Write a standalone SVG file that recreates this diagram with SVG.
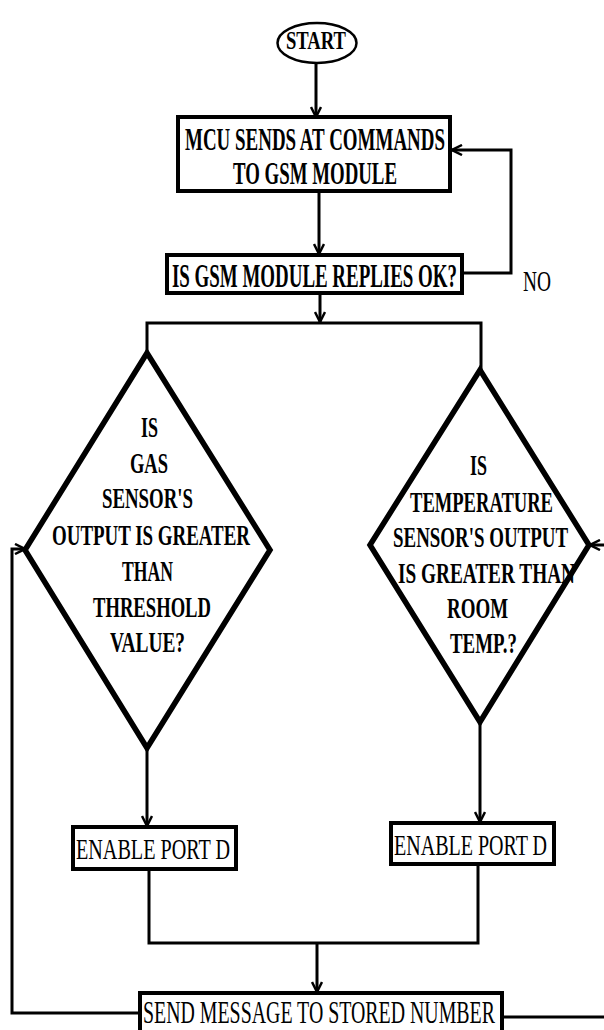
<svg xmlns="http://www.w3.org/2000/svg" width="604" height="1030" viewBox="0 0 604 1030">
<style>
.t{font-family:"Liberation Serif","Times New Roman",serif;font-weight:bold;fill:#000}
.r{font-family:"Liberation Serif","Times New Roman",serif;font-weight:normal;fill:#000}
.box{fill:#fff;stroke:#000;stroke-width:4}
.dfill{fill:#fff;stroke:none}
.dline{fill:none;stroke:#000;stroke-width:5.5;stroke-linejoin:miter}
.c{fill:none;stroke:#000;stroke-width:3}
.ca{fill:none;stroke:#000;stroke-width:3;marker-end:url(#ah)}
</style>
<defs>
<marker id="ah" viewBox="0 0 12 12" refX="11" refY="6" markerWidth="12" markerHeight="12" markerUnits="userSpaceOnUse" orient="auto">
<path d="M1,1 L11,6 L1,11" fill="none" stroke="#000" stroke-width="2.5"/>
</marker>
</defs>
<rect x="0" y="0" width="604" height="1030" fill="#fff"/>

<g id="connectors">
<path class="ca" d="M316,63 V117"/>
<path class="ca" d="M319,191 V254"/>
<path class="ca" d="M462,273 H511 V150 H452"/>
<path class="ca" d="M320,293 V322"/>
<path class="c" d="M147,353 V323 H481 V370"/>
<path class="ca" d="M147,748 V826"/>
<path class="ca" d="M480,722 V822"/>
<path class="c" d="M149,869 V943 H478 V864"/>
<path class="ca" d="M317,943 V992"/>
<path class="ca" d="M140,1013 H12 V549 H25"/>
<path class="ca" d="M502,1017 H606 V545 H590"/>
</g>

<g id="start">
<ellipse cx="317" cy="43" rx="39.5" ry="20" fill="#fff" stroke="#000" stroke-width="2.5"/>
<text class="t" transform="translate(286,49) scale(1,1.36)" font-size="18" textLength="60" lengthAdjust="spacingAndGlyphs">START</text>
</g>

<g id="mcu">
<rect class="box" x="178" y="117" width="272" height="74"/>
<text class="t" transform="translate(185,150) scale(1,1.72)" font-size="18.8" textLength="260" lengthAdjust="spacingAndGlyphs">MCU SENDS AT COMMANDS</text>
<text class="t" transform="translate(233,184) scale(1,1.72)" font-size="18.8" textLength="164" lengthAdjust="spacingAndGlyphs">TO GSM MODULE</text>
</g>

<g id="gsmok">
<rect class="box" x="167" y="255" width="295" height="38"/>
<text class="t" transform="translate(172,287) scale(1,1.8)" font-size="18.9" textLength="285" lengthAdjust="spacingAndGlyphs">IS GSM MODULE REPLIES OK?</text>
</g>

<g id="nolabel">
<text class="r" transform="translate(523,291) scale(1,1.5)" font-size="19.4" textLength="28" lengthAdjust="spacingAndGlyphs">NO</text>
</g>

<g id="gas">
<polygon class="dfill" points="147,353 25,550 147,748 270,550"/>
<text class="t" transform="translate(141,437) scale(1,1.55)" font-size="18.7" textLength="17" lengthAdjust="spacingAndGlyphs">IS</text>
<text class="t" transform="translate(130,473) scale(1,1.55)" font-size="18.7" textLength="38" lengthAdjust="spacingAndGlyphs">GAS</text>
<text class="t" transform="translate(102,508) scale(1,1.55)" font-size="18.7" textLength="91" lengthAdjust="spacingAndGlyphs">SENSOR'S</text>
<text class="t" transform="translate(52,545) scale(1,1.55)" font-size="18.7" textLength="198" lengthAdjust="spacingAndGlyphs">OUTPUT IS GREATER</text>
<text class="t" transform="translate(122,581) scale(1,1.55)" font-size="18.7" textLength="51" lengthAdjust="spacingAndGlyphs">THAN</text>
<text class="t" transform="translate(93,617) scale(1,1.55)" font-size="18.7" textLength="118" lengthAdjust="spacingAndGlyphs">THRESHOLD</text>
<text class="t" transform="translate(110,652) scale(1,1.55)" font-size="18.7" textLength="75" lengthAdjust="spacingAndGlyphs">VALUE?</text>
<polygon class="dline" points="147,353 25,550 147,748 270,550"/>
</g>

<g id="temp">
<polygon class="dfill" points="480,370 370,545 480,722 589,545"/>
<text class="t" transform="translate(470,475) scale(1,1.58)" font-size="18.7" textLength="17" lengthAdjust="spacingAndGlyphs">IS</text>
<text class="t" transform="translate(410,512) scale(1,1.58)" font-size="18.7" textLength="143" lengthAdjust="spacingAndGlyphs">TEMPERATURE</text>
<text class="t" transform="translate(393,547) scale(1,1.58)" font-size="18.7" textLength="175" lengthAdjust="spacingAndGlyphs">SENSOR'S OUTPUT</text>
<text class="t" transform="translate(398,583) scale(1,1.58)" font-size="18.7" textLength="177" lengthAdjust="spacingAndGlyphs">IS GREATER THAN</text>
<text class="t" transform="translate(447,618) scale(1,1.58)" font-size="18.7" textLength="61" lengthAdjust="spacingAndGlyphs">ROOM</text>
<text class="t" transform="translate(450,653) scale(1,1.58)" font-size="18.7" textLength="67" lengthAdjust="spacingAndGlyphs">TEMP.?</text>
<polygon class="dline" points="480,370 370,545 480,722 589,545"/>
</g>

<g id="enable1">
<rect class="box" x="73" y="827" width="163" height="42"/>
<text class="r" transform="translate(76,859) scale(1,1.45)" font-size="19.9" textLength="154" lengthAdjust="spacingAndGlyphs">ENABLE PORT D</text>
</g>

<g id="enable2">
<rect class="box" x="391" y="823" width="163" height="41" stroke-width="5"/>
<text class="r" transform="translate(394,855) scale(1,1.45)" font-size="19.9" textLength="153" lengthAdjust="spacingAndGlyphs">ENABLE PORT D</text>
</g>

<g id="send">
<rect class="box" x="140" y="993" width="362" height="45"/>
<text class="r" transform="translate(143,1023) scale(1,1.6)" font-size="19.8" textLength="352" lengthAdjust="spacingAndGlyphs">SEND MESSAGE TO STORED NUMBER</text>
</g>
</svg>
